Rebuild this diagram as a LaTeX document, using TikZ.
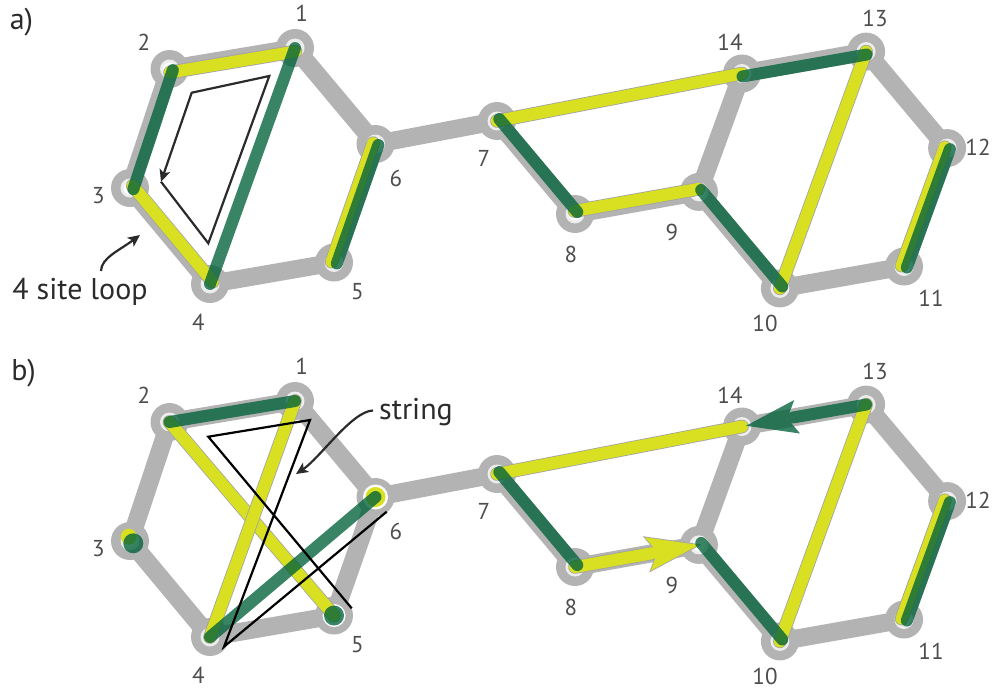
\documentclass[tikz,border=0pt]{standalone}
\usepackage{fontspec}
\setmainfont{PT Sans}
\usetikzlibrary{calc,arrows.meta}
\definecolor{bondgray}{HTML}{B3B3B3}
\definecolor{edgegray}{HTML}{A3A3A3}
\definecolor{innergray}{HTML}{EDEDED}
\definecolor{ylw}{HTML}{D9E021}
\definecolor{grn}{RGB}{0,98,58}
\definecolor{lbl}{HTML}{4D4D4D}
\definecolor{ink}{HTML}{2B2B2B}
\tikzset{
 bond/.style={draw=bondgray,line width=18pt,line cap=round},
 siteo/.style={circle,fill=bondgray,minimum size=38pt,inner sep=0pt},
 yline/.style={draw=ylw,line width=12pt,line cap=round},
 yedge/.style={draw=edgegray,line width=13.6pt,line cap=round},
 gline/.style={draw=grn,draw opacity=.78,line width=12pt,line cap=round},
 lab/.style={text=lbl,font=\fontsize{23}{23}\selectfont,inner sep=0pt},
 big/.style={text=ink,font=\fontsize{30}{30}\selectfont,inner sep=0pt},
 thinar/.style={draw=ink,line width=2.2pt,-{Stealth[length=12pt,width=11pt,inset=3pt]}},
 strline/.style={draw=black,line width=2.2pt},
}
\newcommand\yseg[3]{%
 \draw[yedge] ($(#1)!#3!90:(#2)$) -- ($(#2)!#3!-90:(#1)$);
 \draw[yline] ($(#1)!#3!90:(#2)$) -- ($(#2)!#3!-90:(#1)$);}
\newcommand\gseg[3]{%
 \draw[gline] ($(#1)!#3!90:(#2)$) -- ($(#2)!#3!-90:(#1)$);}
\begin{document}
\begin{tikzpicture}[x=1pt,y=-1pt]
\useasboundingbox (0,0) rectangle (1003,693);
% ---------- sites ----------
\foreach \p/\dy in {a/0,b/353}{
 \coordinate (\p1) at (295,48+\dy);
 \coordinate (\p2) at (169.5,69+\dy);
 \coordinate (\p3) at (130,188+\dy);
 \coordinate (\p4) at (210,284+\dy);
 \coordinate (\p5) at (334,262.5+\dy);
 \coordinate (\p6) at (375.5,144+\dy);
 \coordinate (\p7) at (497,121+\dy);
 \coordinate (\p8) at (575,214+\dy);
 \coordinate (\p9) at (698.9,191.9+\dy);
 \coordinate (\p10) at (779.9,288.4+\dy);
 \coordinate (\p11) at (904,266.5+\dy);
 \coordinate (\p12) at (947.1,148.1+\dy);
 \coordinate (\p13) at (866.1,51.6+\dy);
 \coordinate (\p14) at (742,73.5+\dy);
 \foreach \u/\v in {1/2,2/3,3/4,4/5,5/6,6/1,6/7,7/8,8/9,9/10,10/11,11/12,12/13,13/14,14/9}
   \draw[bond] (\p\u) -- (\p\v);
 \foreach \i in {1,...,14}{
   \node[siteo] (s\p\i) at (\p\i) {};
   \fill[innergray] (\p\i) circle (9.5pt);
   \fill[white] (\p\i) circle (6.5pt);
 }
}
% ---------- panel a ----------
\yseg{a1}{a2}{3.5pt}
\yseg{a3}{a4}{3.5pt}
\yseg{a6}{a5}{-2.5pt}
\yseg{a7}{a14}{0pt}
\yseg{a8}{a9}{3pt}
\yseg{a10}{a13}{0pt}
\yseg{a12}{a11}{-2.5pt}
\gseg{a1}{a4}{0pt}
\gseg{a2}{a3}{3.5pt}
\gseg{a6}{a5}{3pt}
\gseg{a7}{a8}{3pt}
\gseg{a9}{a10}{3pt}
\gseg{a13}{a14}{3pt}
\gseg{a12}{a11}{3pt}
% loop arrow
\coordinate (la0) at (161,181.7);
\coordinate (la1) at (208.3,243.3);
\coordinate (la2) at (269.3,76);
\coordinate (la3) at (191.7,92.7);
\draw[thinar] (la0) -- (la1) -- (la2) -- (la3) -- (la0);
% labels a
\node[big] (ta) at (21.5,22.5) {a)};
\node[big] (loop) at (80,291.7) {4 site loop};
\coordinate (loopend) at (140,235);
\draw[thinar] (101,271) .. controls (101,258) and (120,250) .. (loopend);
% ---------- panel b ----------
\fill[white] (b5) circle (11.5pt);
\fill[white] (b6) circle (12.5pt);
\fill[ylw] (b6) circle (10pt);
\fill[ylw] ($(b3)+(-1.3,-4.3)$) circle (8pt);
\yseg{b2}{b5}{0pt}
\yseg{b1}{b4}{0pt}
\yseg{b7}{b14}{0pt}
\yseg{b10}{b13}{0pt}
\yseg{b12}{b11}{-2.5pt}
% yellow arrow 8 -> 9
\coordinate (ytip) at (b9);
\coordinate (yback) at ($(b9)!52pt!(b8)$);
\coordinate (ynotch) at ($(b9)!42pt!(b8)$);
\coordinate (yl) at ($(yback)!17pt!90:(b9)$);
\coordinate (yr) at ($(yback)!17pt!-90:(b9)$);
\draw[yedge] (b8) -- ($(ynotch)!6pt!(b8)$);
\fill[ylw,draw=edgegray,line width=1.6pt] (ytip) -- (yl) -- (ynotch) -- (yr) -- cycle;
\draw[yline] (b8) -- ($(ynotch)!6pt!(b8)$);
\fill[ylw] (ytip) -- (yl) -- (ynotch) -- (yr) -- cycle;
% green lines
\gseg{b1}{b2}{0pt}
\gseg{b4}{b6}{0pt}
\gseg{b7}{b8}{3pt}
\gseg{b9}{b10}{3pt}
\gseg{b12}{b11}{3pt}
\fill[grn,fill opacity=.78] (b5) circle (10pt);
\fill[grn,fill opacity=.78] ($(b3)+(3.3,2.3)$) circle (10pt);
% green arrow 13 -> 14
\coordinate (gtip) at ($(b14)!4pt!(b13)$);
\coordinate (gback) at ($(gtip)!52pt!(b13)$);
\coordinate (gnotch) at ($(gtip)!42pt!(b13)$);
\coordinate (gl) at ($(gback)!17pt!90:(gtip)$);
\coordinate (gr) at ($(gback)!17pt!-90:(gtip)$);
\begin{scope}[transparency group,opacity=.78]
 \draw[draw=grn,line width=12pt,line cap=round] (b13) -- ($(gnotch)!6pt!(b13)$);
 \fill[grn] (gtip) -- (gl) -- (gnotch) -- (gr) -- cycle;
\end{scope}
% string
\coordinate (st0) at (351.7,608.3);
\coordinate (st1) at (208.3,436.7);
\coordinate (st2) at (310,420);
\coordinate (st3) at (224,646.7);
\coordinate (st4) at (386.7,511.7);
\draw[strline] (st0) -- (st1) -- (st2) -- (st3) -- (st4);
\node[big] (tb) at (23.5,373.3) {b)};
\node[big] (str) at (416,411.7) {string};
\coordinate (strend) at (296,474);
\draw[thinar] (373,410.5) .. controls (352,411) and (320,458) .. (strend);
% ---------- number labels ----------
\foreach \p/\dy in {a/0,b/353}{
 \node[lab] (n\p1) at (301.7,13.3+\dy) {1};
 \node[lab] (n\p2) at (144,42.5+\dy) {2};
 \node[lab] (n\p3) at (98.3,196+\dy) {3};
 \node[lab] (n\p4) at (198.3,322+\dy) {4};
 \node[lab] (n\p5) at (357.5,292+\dy) {5};
 \node[lab] (n\p6) at (396,178+\dy) {6};
 \node[lab] (n\p7) at (484,158+\dy) {7};
 \node[lab] (n\p8) at (571,254+\dy) {8};
 \node[lab] (n\p9) at (672,232+\dy) {9};
 \node[lab] (n\p10) at (765,323+\dy) {10};
 \node[lab] (n\p11) at (931,298+\dy) {11};
 \node[lab] (n\p12) at (978,147+\dy) {12};
 \node[lab] (n\p13) at (875,18+\dy) {13};
 \node[lab] (n\p14) at (730,42+\dy) {14};
}
\end{tikzpicture}
\end{document}
